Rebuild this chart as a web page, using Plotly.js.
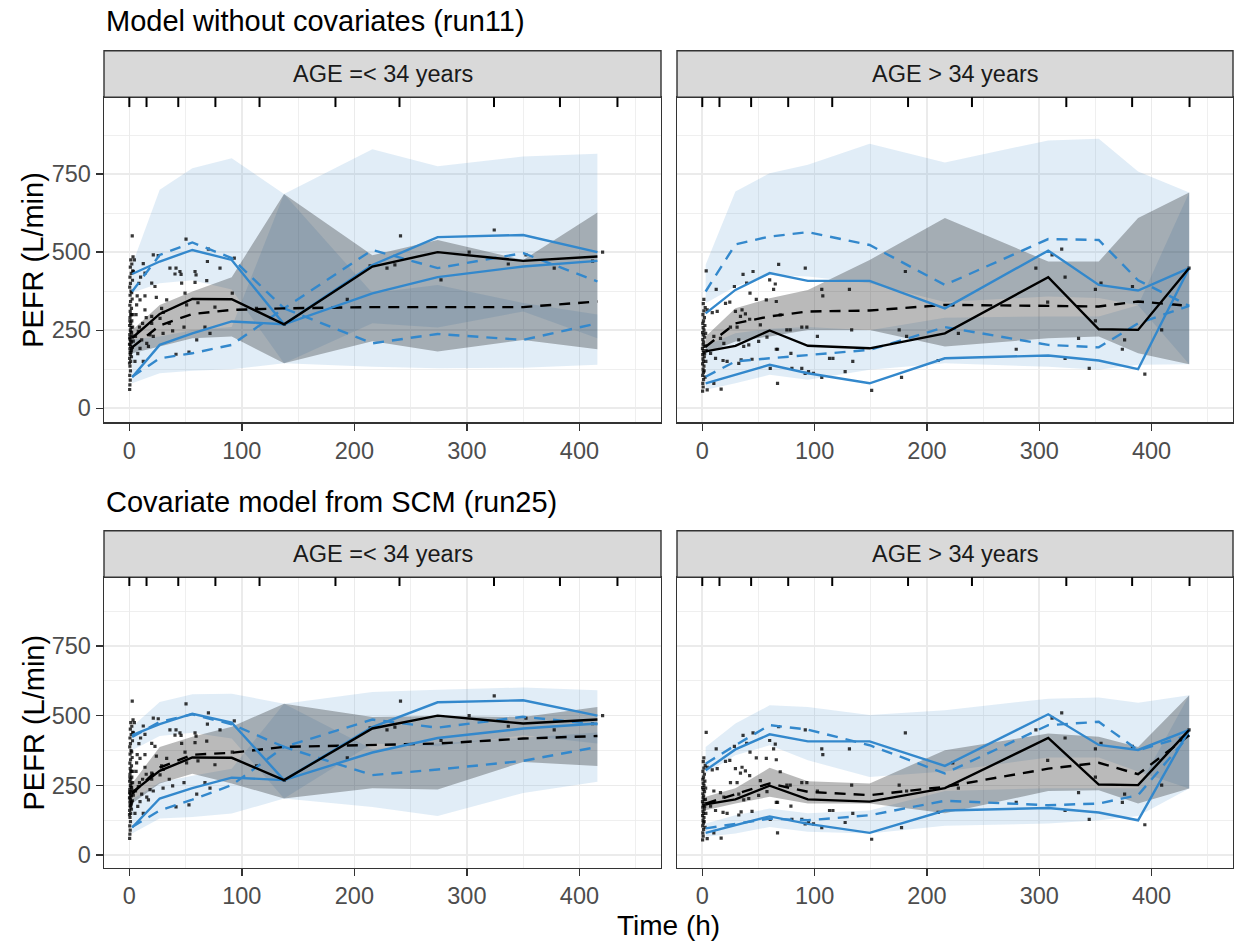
<!DOCTYPE html>
<html><head><meta charset="utf-8">
<script src="https://cdn.plot.ly/plotly-3.0.1.min.js"></script>
<style>html,body{margin:0;padding:0;background:#fff;} #chart{width:1238px;height:941px;}</style>
</head><body><div id="chart"></div>
<script>
// ---------------- DATA ----------------
const panelTitles = ['Model without covariates (run11)', 'Covariate model from SCM (run25)'];
const stripLabels = ['AGE =&lt; 34 years', 'AGE &gt; 34 years'];
const xTicks = [0, 100, 200, 300, 400];
const xMinor = [50, 150, 250, 350, 450];
const yTicks = [0, 250, 500, 750];
const yMinor = [125, 375, 625, 875];

// bin separators (time, h)
const binSeps = [0, 15.3, 43.5, 76.5, 115.7, 183.2, 240.1, 324.1, 382.7, 433.8];
// bin midpoints
const binXL = [2.5, 27, 56, 91, 137.5, 216, 274, 350, 416];
const binXR = [3, 29.5, 60, 94, 149, 216, 308, 353, 388, 433.5];

// observed data, AGE =< 34
const obsXL = [0.3,0.5,0.8,0.4,1.0,0.6,1.2,0.3,0.9,1.5,0.5,1.1,0.2,1.8,0.7,1.3,0.4,2.0,0.9,1.6,0.3,1.2,2.2,0.6,1.4,0.8,1.9,0.5,1.1,2.5,0.7,1.5,0.4,1.0,2.8,0.6,1.7,3.0,0.9,2.2,1.3,3.3,2.6,0.8,1.6,2.4,0.2,1.9,2.7,0.5,2.9,1.4,3.2,2.1,3.5,0.3,1.2,2.0,0.7,1.6,
  4.5,3.6,12.4,13.9,21.3,25.7,19.9,22.8,13.9,9.5,6.5,13.9,19.9,28.7,33.2,36.1,40.6,45,46,41.5,46.5,50.4,58.4,59.3,58.4,68.8,70.3,69.4,80.6,93.3,91.5,76.1,50.9,49.5,38.5,35.5,48.6,59.9,67.2,71.7,41.5,30.2,27.3,19.9,21.3,18.4,15.5,17,9.5,11,8,12.4,5,11.8,6,7,8.5,10,5.5,7.5,9,15,24,30,53,61,113,137.7,193.7,214,229,236,241,277,302,324.3,336.8,352.5,377.6,411.7,420.6];
const obsYL = [60,75,90,105,120,135,150,160,172,180,190,198,205,212,220,228,236,242,250,258,265,272,280,290,300,310,320,330,342,350,362,375,388,400,410,420,432,440,452,462,475,485,552,205,185,232,145,165,195,280,260,245,300,370,215,225,215,190,178,300,
  475,438,463,433,491,489,401,390,360,347,331,315,294,320,347,449,430,438,429,449,401,542,438,427,403,409,510,470,449,481,369,324,331,369,248,272,260,219,260,240,173,307,288,272,230,235,208,198,192,219,246,150,150,272,300,360,400,420,230,175,260,290,355,240,180,338,320,269,349,456,449,459,552,411,500,571,462,491,449,471,500];

// observed data, AGE > 34
const obsXR = [0.3,0.8,0.5,1.2,0.4,1.0,0.7,1.5,0.3,1.1,0.6,1.8,0.4,1.3,0.9,0.2,1.6,0.7,1.2,0.5,2.0,0.9,0.3,1.5,0.8,2.3,0.5,1.1,1.9,0.6,1.4,2.6,0.9,1.7,2.1,2.8,3.2,2.5,3.0,3.5,
  3.5,12.4,36.3,45.2,68,91.7,28.6,39.5,42.5,60,65,63.5,106.4,107.3,131,1.4,4.4,8.9,13.3,20.7,24.5,29.5,35.4,34,38.4,42.2,48.1,51.7,57,65.9,69.4,75.3,78.3,88.6,93.1,102.5,133,175.3,181.9,10.3,16.2,19.2,25.1,31,32.5,36.9,41.4,50.2,57.6,65.9,67,78.9,7.4,11.8,18.5,22.1,32.5,34.6,44.3,60.5,67,79.8,88.6,91.6,94.6,99,106.4,113.3,116.3,127.2,134,150.8,177.4,4.4,16.8,10.3,180.8,210,223,228,279.5,297,307.5,311.4,320,323,323,335,344.5,350,350,355,374,376,383,394,409,433.4];
const obsYR = [55,68,80,92,105,115,125,135,142,150,158,165,172,178,185,192,198,205,212,220,228,235,242,250,258,265,272,280,290,300,312,322,335,120,175,200,150,100,240,185,
  440,381,429,438,461,449,390,401,369,411,398,381,381,360,381,349,315,306,310,336,340,310,315,294,302,285,349,267,347,342,299,251,251,260,260,230,251,251,230,230,224,208,260,260,219,198,203,214,228,189,189,176,176,160,153,150,144,155,157,128,80,128,128,112,117,112,99,160,160,117,150,57,99,59,61,80,438,153,331,240,189,449,340,491,510,420,160,224,128,381,280,401,189,219,390,109,251,449];

// observed percentiles
const obsMedL = [225, 302, 350, 349, 269, 454, 500, 472, 486];
const obsP95L = [430, 470, 507, 475, 269, 459, 548, 555, 500];
const obsP5L  = [99, 203, 240, 278, 269, 368, 420, 454, 472];
const obsMedR = [182, 200, 249, 200, 192, 240, 420, 253, 251, 449];
const obsP95R = [304, 379, 433, 408, 408, 320, 505, 395, 377, 449];
const obsP5R  = [80, 107, 139, 112, 80, 160, 169, 153, 125, 449];

// run11 simulated, AGE =< 34
const r11MedL  = [195, 265, 302, 315, 320, 324, 324, 324, 342];
const r11P95L  = [374, 491, 531, 481, 320, 507, 449, 497, 406];
const r11P5L   = [101, 160, 176, 203, 320, 208, 238, 219, 272];
const r11MedLoL = [176, 198, 224, 230, 144, 215, 182, 219, 189];
const r11MedHiL = [250, 331, 374, 420, 686, 490, 539, 475, 627];
const r11P95LoL = [370, 400, 410, 380, 144, 272, 259, 310, 224];
const r11P95HiL = [459, 700, 769, 801, 686, 830, 775, 806, 815];
const r11P5LoL  = [80, 112, 120, 125, 144, 133, 128, 130, 139];
const r11P5HiL  = [220, 230, 250, 260, 686, 369, 395, 337, 300];
// run11 simulated, AGE > 34
const r11MedR  = [197, 272, 294, 310, 313, 331, 328, 326, 342, 328];
const r11P95R  = [374, 525, 550, 564, 523, 395, 542, 539, 410, 328];
const r11P5R   = [101, 150, 160, 171, 187, 260, 203, 195, 272, 328];
const r11MedLoR = [176, 214, 230, 251, 251, 198, 224, 230, 176, 141];
const r11MedHiR = [230, 320, 352, 379, 475, 609, 470, 470, 609, 691];
const r11P95LoR = [336, 390, 427, 422, 400, 340, 358, 353, 330, 141];
const r11P95HiR = [460, 694, 753, 780, 847, 787, 858, 863, 758, 691];
const r11P5LoR  = [59, 80, 107, 91, 123, 144, 133, 123, 139, 141];
const r11P5HiR  = [200, 240, 255, 260, 250, 290, 294, 294, 330, 691];

// run25 simulated, AGE =< 34
const r25MedL  = [220, 314, 360, 367, 388, 394, 400, 418, 427];
const r25P95L  = [424, 478, 505, 469, 388, 486, 457, 496, 469];
const r25P5L   = [101, 160, 199, 251, 388, 287, 307, 338, 388];
const r25MedLoL = [185, 257, 292, 257, 203, 240, 235, 334, 320];
const r25MedHiL = [257, 388, 424, 460, 543, 495, 499, 495, 531];
const r25P95LoL = [376, 427, 439, 418, 203, 400, 390, 430, 400];
const r25P95HiL = [460, 549, 577, 579, 543, 585, 593, 601, 591];
const r25P5LoL  = [78, 131, 137, 149, 203, 173, 140, 223, 263];
const r25P5HiL  = [200, 260, 285, 310, 543, 380, 400, 420, 440];
// run25 simulated, AGE > 34
const r25MedR  = [185, 218, 257, 227, 215, 245, 310, 331, 290, 430];
const r25P95R  = [328, 394, 466, 450, 394, 293, 466, 478, 376, 430];
const r25P5R   = [96, 113, 131, 125, 143, 195, 179, 185, 215, 430];
const r25MedLoR = [161, 185, 209, 185, 185, 150, 230, 233, 185, 239];
const r25MedHiR = [209, 240, 313, 265, 257, 376, 436, 424, 388, 573];
const r25P95LoR = [293, 358, 394, 340, 280, 300, 350, 350, 300, 239];
const r25P95HiR = [388, 472, 537, 531, 502, 519, 561, 565, 546, 573];
const r25P5LoR  = [66, 78, 101, 84, 78, 105, 113, 125, 140, 239];
const r25P5HiR  = [113, 143, 167, 150, 160, 230, 240, 240, 240, 573];

// ---------------- STYLE / LAYOUT ----------------
const W = 1238, H = 941;
const FONT = '"Liberation Sans", Arial, Helvetica, sans-serif';
const BLUE = '#3388cc';
const BLUE_FILL = 'rgba(51,136,204,0.15)';
const GREY_FILL = 'rgba(0,0,0,0.27)';
const fx = p => p / W;
const fy = p => 1 - p / H;
const colL = [104, 661], colR = [677, 1233];
const rowT = [97.3, 422.3], rowB = [577.3, 867.7];

function ribbon(x, lo, hi, color, xa, ya) {
  return {type: 'scatter', mode: 'lines', x: x.concat(x.slice().reverse()),
    y: hi.concat(lo.slice().reverse()), fill: 'toself', fillcolor: color,
    line: {width: 0, color: color}, hoverinfo: 'skip', showlegend: false, xaxis: xa, yaxis: ya};
}
function line(x, y, color, dash, xa, ya) {
  return {type: 'scatter', mode: 'lines', x: x, y: y,
    line: {color: color, width: 2.4, dash: dash}, hoverinfo: 'skip', showlegend: false, xaxis: xa, yaxis: ya};
}
function panel(xa, ya, bx, ox, oy, oMed, oP5, oP95, s) {
  const D = '11px,8px';
  return [
    ribbon(bx, s.p95Lo, s.p95Hi, BLUE_FILL, xa, ya),
    ribbon(bx, s.p5Lo, s.p5Hi, BLUE_FILL, xa, ya),
    ribbon(bx, s.medLo, s.medHi, GREY_FILL, xa, ya),
    {type: 'scatter', mode: 'markers', x: ox, y: oy, xaxis: xa, yaxis: ya, hoverinfo: 'skip', showlegend: false,
      marker: {symbol: 'square', size: 3.2, color: 'rgba(0,0,0,0.78)', line: {width: 0}}},
    line(bx, s.p5, BLUE, D, xa, ya),
    line(bx, s.p95, BLUE, D, xa, ya),
    line(bx, s.med, '#000000', D, xa, ya),
    line(bx, oP5, BLUE, 'solid', xa, ya),
    line(bx, oP95, BLUE, 'solid', xa, ya),
    line(bx, oMed, '#000000', 'solid', xa, ya)
  ];
}

const traces = [].concat(
  panel('x', 'y', binXL, obsXL, obsYL, obsMedL, obsP5L, obsP95L,
    {med: r11MedL, p5: r11P5L, p95: r11P95L, medLo: r11MedLoL, medHi: r11MedHiL, p5Lo: r11P5LoL, p5Hi: r11P5HiL, p95Lo: r11P95LoL, p95Hi: r11P95HiL}),
  panel('x2', 'y2', binXR, obsXR, obsYR, obsMedR, obsP5R, obsP95R,
    {med: r11MedR, p5: r11P5R, p95: r11P95R, medLo: r11MedLoR, medHi: r11MedHiR, p5Lo: r11P5LoR, p5Hi: r11P5HiR, p95Lo: r11P95LoR, p95Hi: r11P95HiR}),
  panel('x3', 'y3', binXL, obsXL, obsYL, obsMedL, obsP5L, obsP95L,
    {med: r25MedL, p5: r25P5L, p95: r25P95L, medLo: r25MedLoL, medHi: r25MedHiL, p5Lo: r25P5LoL, p5Hi: r25P5HiL, p95Lo: r25P95LoL, p95Hi: r25P95HiL}),
  panel('x4', 'y4', binXR, obsXR, obsYR, obsMedR, obsP5R, obsP95R,
    {med: r25MedR, p5: r25P5R, p95: r25P95R, medLo: r25MedLoR, medHi: r25MedHiR, p5Lo: r25P5LoR, p5Hi: r25P5HiR, p95Lo: r25P95LoR, p95Hi: r25P95HiR})
);

function xAxis(col, anchor) {
  return {domain: [fx(col[0]), fx(col[1])], anchor: anchor, range: [-22.5, 472.5],
    tickmode: 'array', tickvals: xTicks, ticks: 'outside', ticklen: 7, tickwidth: 1.4, tickcolor: '#333333',
    tickfont: {family: FONT, size: 23.5, color: '#4D4D4D'},
    showgrid: true, gridcolor: '#EBEBEB', gridwidth: 1.6,
    minor: {tickmode: 'array', tickvals: xMinor, showgrid: true, gridcolor: '#EBEBEB', gridwidth: 0.8, ticks: ''},
    zeroline: false, showline: true, linecolor: '#333333', linewidth: 1.4, mirror: true, fixedrange: true};
}
function yAxis(row, anchor, labels) {
  return {domain: [fy(row[1]), fy(row[0])], anchor: anchor, range: [-45, 996],
    tickmode: 'array', tickvals: yTicks, ticks: labels ? 'outside' : '', ticklen: 7, tickwidth: 1.4, tickcolor: '#333333',
    showticklabels: labels, tickfont: {family: FONT, size: 23.5, color: '#4D4D4D'},
    showgrid: true, gridcolor: '#EBEBEB', gridwidth: 1.6,
    minor: {tickmode: 'array', tickvals: yMinor, showgrid: true, gridcolor: '#EBEBEB', gridwidth: 0.8, ticks: ''},
    zeroline: false, showline: true, linecolor: '#333333', linewidth: 1.4, mirror: true, fixedrange: true};
}

const shapes = [];
const annotations = [];
const panels = [
  {xa: 'x', ya: 'y', col: colL, row: rowT, strip: stripLabels[0]},
  {xa: 'x2', ya: 'y2', col: colR, row: rowT, strip: stripLabels[1]},
  {xa: 'x3', ya: 'y3', col: colL, row: rowB, strip: stripLabels[0]},
  {xa: 'x4', ya: 'y4', col: colR, row: rowB, strip: stripLabels[1]}
];
panels.forEach(p => {
  // strip
  shapes.push({type: 'rect', xref: 'paper', yref: 'paper', x0: fx(p.col[0]), x1: fx(p.col[1]),
    y0: fy(p.row[0]), y1: fy(p.row[0] - 46.5), fillcolor: '#D9D9D9', line: {color: '#333333', width: 1.4}, layer: 'above'});
  annotations.push({xref: 'paper', yref: 'paper', x: fx((p.col[0] + p.col[1]) / 2), y: fy(p.row[0] - 23.5),
    xanchor: 'center', yanchor: 'middle', showarrow: false, text: p.strip,
    font: {family: FONT, size: 23.5, color: '#1A1A1A'}});
  // bin separators (rug on top)
  binSeps.forEach(b => {
    shapes.push({type: 'line', xref: p.xa, yref: p.ya + ' domain', x0: b, x1: b, y0: 0.97, y1: 1,
      line: {color: '#000000', width: 2}, layer: 'above'});
  });
});
annotations.push({xref: 'paper', yref: 'paper', x: fx(104), y: fy(21), xanchor: 'left', yanchor: 'middle',
  showarrow: false, text: panelTitles[0], font: {family: FONT, size: 29, color: '#000000'}});
annotations.push({xref: 'paper', yref: 'paper', x: fx(104), y: fy(502), xanchor: 'left', yanchor: 'middle',
  showarrow: false, text: panelTitles[1], font: {family: FONT, size: 29, color: '#000000'}});
annotations.push({xref: 'paper', yref: 'paper', x: fx(33), y: fy((rowT[0] + rowT[1]) / 2), xanchor: 'center', yanchor: 'middle',
  textangle: -90, showarrow: false, text: 'PEFR (L/min)', font: {family: FONT, size: 29, color: '#000000'}});
annotations.push({xref: 'paper', yref: 'paper', x: fx(33), y: fy((rowB[0] + rowB[1]) / 2), xanchor: 'center', yanchor: 'middle',
  textangle: -90, showarrow: false, text: 'PEFR (L/min)', font: {family: FONT, size: 29, color: '#000000'}});
annotations.push({xref: 'paper', yref: 'paper', x: fx((colL[0] + colR[1]) / 2), y: fy(925), xanchor: 'center', yanchor: 'middle',
  showarrow: false, text: 'Time (h)', font: {family: FONT, size: 28, color: '#000000'}});

const layout = {
  width: W, height: H, margin: {l: 0, r: 0, t: 0, b: 0},
  paper_bgcolor: '#FFFFFF', plot_bgcolor: '#FFFFFF', showlegend: false,
  font: {family: FONT},
  xaxis: xAxis(colL, 'y'), yaxis: yAxis(rowT, 'x', true),
  xaxis2: xAxis(colR, 'y2'), yaxis2: yAxis(rowT, 'x2', false),
  xaxis3: xAxis(colL, 'y3'), yaxis3: yAxis(rowB, 'x3', true),
  xaxis4: xAxis(colR, 'y4'), yaxis4: yAxis(rowB, 'x4', false),
  shapes: shapes, annotations: annotations
};
Plotly.newPlot('chart', traces, layout, {staticPlot: true, displayModeBar: false});
</script></body></html>
